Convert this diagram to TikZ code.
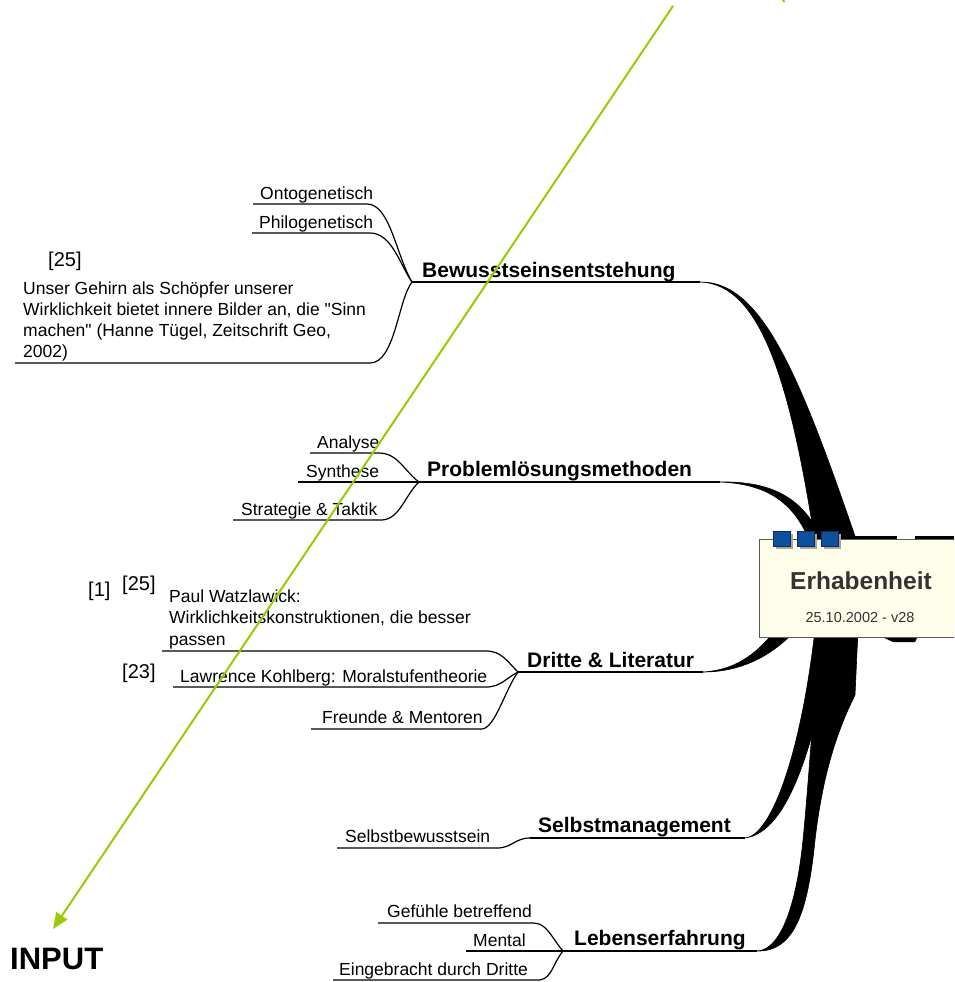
\documentclass[tikz,border=0pt]{standalone}
\usepackage{fontspec}
\setmainfont{Liberation Sans}[Ligatures=TeXOff]
\usetikzlibrary{arrows.meta}
\definecolor{arrowgreen}{RGB}{153,204,0}
\definecolor{boxfill}{RGB}{255,254,235}
\definecolor{boxline}{RGB}{90,90,90}
\definecolor{tabblue}{RGB}{12,80,160}
\definecolor{tabline}{RGB}{25,40,75}
\definecolor{titlegray}{RGB}{51,51,51}

\begin{document}
\begin{tikzpicture}[x=1pt,y=-1pt,
  sub/.style={anchor=base west,inner sep=0pt,font=\fontsize{17.5}{21}\selectfont},
  topic/.style={anchor=base west,inner sep=0pt,font=\fontsize{21}{25}\selectfont\bfseries},
  refmark/.style={anchor=base west,inner sep=0pt,font=\fontsize{20}{24}\selectfont},
  twig/.style={line width=1.2pt},
  stem/.style={line width=1.5pt},
  wedge/.style={fill=black,draw=black,line width=0.6pt,line join=round},
  tab/.style={fill=tabblue,draw=tabline,line width=0.8pt},
  tabshadow/.style={fill=black!35}
]
\useasboundingbox (0,0) rectangle (954,982);
\clip (0,0) rectangle (954,982);

% ---------- joints and stem ends ----------
\coordinate (j1) at (412,282);  \coordinate (e1) at (700,282);
\coordinate (j2) at (419,482);  \coordinate (e2) at (720,482);
\coordinate (j3) at (518,672);  \coordinate (e3) at (703,672);
\coordinate (j4) at (530,838);  \coordinate (e4) at (745,838);
\coordinate (j5) at (563,951);  \coordinate (e5) at (757,951);

% ---------- tapered branches into the central box ----------
\fill[wedge] (e1) .. controls (760,284) and (790,380) .. (815,542)
  -- (857,542) .. controls (800,376) and (762,281) .. (e1) -- cycle;
\fill[wedge] (e2) .. controls (770,484) and (795,505) .. (810,542)
  -- (823,542) .. controls (805,500) and (775,481) .. (e2) -- cycle;
\fill[wedge] (e3) .. controls (740,672) and (770,657) .. (794,632)
  -- (774,632) .. controls (755,655) and (735,670) .. (e3) -- cycle;
\fill[wedge] (e4) .. controls (770,836) and (800,760) .. (815,630)
  -- (836,630) .. controls (815,740) and (790,832) .. (e4) -- cycle;
\fill[wedge] (e5) .. controls (782,950) and (797,900) .. (803,840)
  .. controls (808,790) and (814,700) .. (820,630)
  -- (858,630) -- (855,695) .. controls (835,735) and (822,780) .. (815,840)
  .. controls (808,910) and (795,952) .. (e5) -- cycle;
% stubs of branches leaving to the right
\fill (853,536) rectangle (897,539.5);
\fill (915,536) rectangle (954,539.5);
\fill (880,636) -- (918,636) -- (915,642) -- (893,642) -- cycle;

% ---------- central topic ----------
\node[draw=boxline,fill=boxfill,line width=1pt,minimum width=220pt,
      minimum height=98pt,anchor=north west,inner sep=0pt] (core) at (759,539) {};
\foreach \x in {773,797,821}{
  \fill[tabshadow] (\x+2.5,533.5) rectangle (\x+19.5,548.5);
  \filldraw[tab] (\x,531) rectangle (\x+17,546);
}
\node[anchor=base,inner sep=0pt,text=titlegray,
      font=\fontsize{24.5}{28}\selectfont\bfseries] (title) at (861,589) {Erhabenheit};
\node[anchor=base,inner sep=0pt,text=titlegray,
      font=\fontsize{14.5}{17}\selectfont] (date) at (860,622) {25.10.2002 - v28};

% ---------- Bewusstseinsentstehung ----------
\node[topic] (bew) at (422,277) {Bewusstseinsentstehung};
\node[sub] (onto) at (260,199) {Ontogenetisch};
\node[sub] (philo) at (259,228) {Philogenetisch};
\node[refmark] (refA) at (48,266) {[25]};
\node[sub] (geh1) at (23,294.5) {Unser Gehirn als Schöpfer unserer};
\node[sub] (geh2) at (23,315.5) {Wirklichkeit bietet innere Bilder an, die "Sinn};
\node[sub] (geh3) at (23,336) {machen" (Hanne Tügel, Zeitschrift Geo,};
\node[sub] (geh4) at (23,357) {2002)};
\coordinate (onto-l) at (253,204);  \coordinate (onto-r) at (367,204);
\coordinate (philo-l) at (252,233); \coordinate (philo-r) at (370,233);
\coordinate (geh-l) at (15,363);    \coordinate (geh-r) at (370,363);
\draw[twig] (onto-l) -- (onto-r) .. controls +(23,0) and +(-16,-27) .. (j1);
\draw[twig] (philo-l) -- (philo-r) .. controls +(22,0) and +(-12,-17) .. (j1);
\draw[twig] (geh-l) -- (geh-r) .. controls +(25,0) and +(-14,18) .. (j1);
\draw[stem] (j1) -- (e1);

% ---------- Problemlösungsmethoden ----------
\node[topic] (prob) at (427,476) {Problemlösungsmethoden};
\node[sub] (ana) at (317,448) {Analyse};
\node[sub] (syn) at (306,477) {Synthese};
\node[sub] (strat) at (241,515) {Strategie \& Taktik};
\coordinate (ana-l) at (310,453);   \coordinate (ana-r) at (379,453);
\coordinate (syn-l) at (298,482);
\coordinate (strat-l) at (233,520); \coordinate (strat-r) at (382,520);
\draw[twig] (ana-l) -- (ana-r) .. controls +(19,0) and +(-14,-10) .. (j2);
\draw[twig] (syn-l) -- (j2);
\draw[twig] (strat-l) -- (strat-r) .. controls +(18,-1) and +(-14,13) .. (j2);
\draw[stem] (j2) -- (e2);

% ---------- Dritte & Literatur ----------
\node[topic] (dritte) at (527,667) {Dritte \& Literatur};
\node[refmark] (refB) at (88,596) {[1]};
\node[refmark] (refC) at (122,590) {[25]};
\node[sub] (paul1) at (169,602) {Paul Watzlawick:};
\node[sub] (paul2) at (169,623.5) {Wirklichkeitskonstruktionen, die besser};
\node[sub] (paul3) at (169,645) {passen};
\node[refmark] (refD) at (122,678) {[23]};
\node[sub] (kohl) at (180,682) {Lawrence Kohlberg: Moralstufentheorie};
\node[sub] (freu) at (322,723) {Freunde \& Mentoren};
\coordinate (paul-l) at (162,651);  \coordinate (paul-r) at (486,651);
\coordinate (kohl-l) at (173,687);  \coordinate (kohl-r) at (486,687);
\coordinate (freu-l) at (311,729);  \coordinate (freu-r) at (482,729);
\draw[twig] (paul-l) -- (paul-r) .. controls +(15,0) and +(-12,-12) .. (j3);
\draw[twig] (kohl-l) -- (kohl-r) .. controls +(15,0) and +(-12,6) .. (j3);
\draw[twig] (freu-l) -- (freu-r) .. controls +(13,-1) and +(-13,18) .. (j3);
\draw[stem] (j3) -- (e3);

% ---------- Selbstmanagement ----------
\node[topic] (sman) at (538,832) {Selbstmanagement};
\node[sub] (sbw) at (345,842) {Selbstbewusstsein};
\coordinate (sbw-l) at (337,848);   \coordinate (sbw-r) at (497,848);
\draw[twig] (sbw-l) -- (sbw-r) .. controls +(15,0) and +(-15,0) .. (j4);
\draw[stem] (j4) -- (e4);

% ---------- Lebenserfahrung ----------
\node[topic] (leben) at (574,945) {Lebenserfahrung};
\node[sub] (gef) at (387,917) {Gefühle betreffend};
\node[sub] (ment) at (473,946) {Mental};
\node[sub] (eing) at (339,975) {Eingebracht durch Dritte};
\coordinate (gef-l) at (378,923);   \coordinate (gef-r) at (533,923);
\coordinate (ment-l) at (466,951);
\coordinate (eing-l) at (333,980);  \coordinate (eing-r) at (540,980);
\draw[twig] (gef-l) -- (gef-r) .. controls +(14,0) and +(-12,-14) .. (j5);
\draw[twig] (ment-l) -- (j5);
\draw[twig] (eing-l) -- (eing-r) .. controls +(12,-2) and +(-10,12) .. (j5);
\draw[stem] (j5) -- (e5);

% ---------- input arrow ----------
\node[anchor=base west,inner sep=0pt,font=\fontsize{31}{36}\selectfont\bfseries]
  (input) at (10,969) {INPUT};
\coordinate (arrtop) at (673,6);
\coordinate (arrtip) at (53,929);
\draw[arrowgreen,line width=2pt,-{Triangle[length=16pt,width=13pt]}] (arrtop) -- (arrtip);
\coordinate (greenA) at (782,-1);
\coordinate (greenB) at (784.5,2);
\draw[arrowgreen,line width=1.8pt] (greenA) -- (greenB);
\end{tikzpicture}
\end{document}
